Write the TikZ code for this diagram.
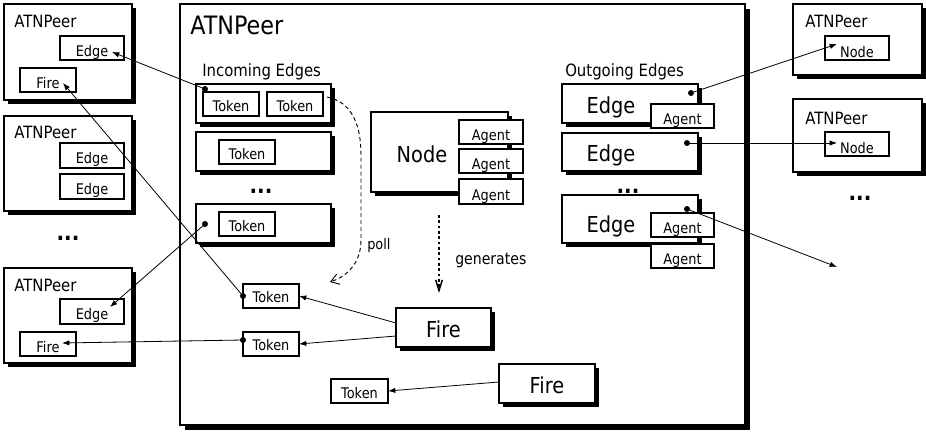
\documentclass[tikz,border=0pt]{standalone}
\usepackage{fontspec}
\setmainfont[FakeStretch=0.88]{DejaVu Sans}
\usetikzlibrary{arrows.meta,shadows,calc}
\newcommand{\bx}[6]{%
  \node[#6, minimum width={(#4-#2)*0.75pt}, minimum height={(#5-#3)*0.75pt}] (#1) at ({(#2+#4)/2},{(#3+#5)/2}) {};}
\begin{document}
\begin{tikzpicture}[x=0.75pt,y=-0.75pt,
  frame/.style={draw, fill=white, line width=0.9pt, inner sep=0pt, outer sep=0pt},
  shbox/.style={frame, general shadow={fill=black, shadow xshift=3pt, shadow yshift=-3pt}},
  lblS/.style={font=\fontsize{11}{13}\selectfont, inner sep=0pt, anchor=base},
  lblM/.style={font=\fontsize{12.7}{15}\selectfont, inner sep=0pt, anchor=base west},
  lblB/.style={font=\fontsize{16.5}{20}\selectfont, inner sep=0pt, anchor=base},
  lblT/.style={font=\fontsize{19}{23}\selectfont, inner sep=0pt, anchor=base west},
  ellip/.style={font=\fontsize{17}{20}\selectfont\bfseries, inner sep=0pt, anchor=base},
  blob/.style={circle, fill=black, inner sep=0pt, minimum size=4.5pt},
  arr/.style={line width=0.6pt, -{Latex[length=5.5pt,width=4pt]}}]
\useasboundingbox (0,0) rectangle (926,432);

% main peer
\bx{main}{180}{4}{745}{425}{frame, general shadow={fill=black, shadow xshift=4pt, shadow yshift=-4pt}}
\node[lblT] (mainT) at (190,35) {ATNPeer};
\node[lblM] (inT) at (202,76) {Incoming Edges};
\node[lblM] (outT) at (565,76) {Outgoing Edges};

% left peers
\bx{L1}{4}{4}{132}{100}{shbox}
\node[lblM] (L1T) at (14,27) {ATNPeer};
\bx{L1e}{60}{36}{124}{60}{frame}
\node[lblS] (L1eT) at (92,56) {Edge};
\bx{L1f}{20}{68}{76}{92}{frame}
\node[lblS] (L1fT) at (48,89) {Fire};

\bx{L2}{4}{116}{132}{211}{shbox}
\node[lblM] (L2T) at (14,138) {ATNPeer};
\bx{L2e}{60}{143}{124}{168}{frame}
\node[lblS] (L2eT) at (92,163) {Edge};
\bx{L2g}{60}{174}{124}{199}{frame}
\node[lblS] (L2gT) at (92,194) {Edge};

\node[ellip] (Ldots) at (68,240) {...};

\bx{L3}{4}{268}{132}{363}{shbox}
\node[lblM] (L3T) at (14,291) {ATNPeer};
\bx{L3e}{60}{299}{124}{324}{frame}
\node[lblS] (L3eT) at (92,319) {Edge};
\bx{L3f}{20}{332}{76}{356}{frame}
\node[lblS] (L3fT) at (48,352) {Fire};

% incoming edges
\bx{In1}{196}{84}{331}{123}{shbox}
\bx{T1a}{203}{92}{259}{116}{frame}
\node[lblS] (T1aT) at (231,111) {Token};
\bx{T1b}{267}{92}{323}{116}{frame}
\node[lblS] (T1bT) at (295,111) {Token};
\bx{In2}{196}{132}{331}{171}{shbox}
\bx{T2}{219}{140}{275}{164}{frame}
\node[lblS] (T2T) at (247,159) {Token};
\node[ellip] (Mdots) at (261,193) {...};
\bx{In3}{196}{204}{331}{243}{shbox}
\bx{T3}{219}{212}{275}{236}{frame}
\node[lblS] (T3T) at (247,231) {Token};

% tokens
\bx{TK1}{243}{284}{299}{308}{frame}
\node[lblS] (TK1T) at (271,302) {Token};
\bx{TK2}{243}{332}{299}{356}{frame}
\node[lblS] (TK2T) at (271,350) {Token};
\bx{TK3}{331}{379}{388}{403}{frame}
\node[lblS] (TK3T) at (359.5,398) {Token};

% node with agents
\bx{N}{371}{112}{508}{192}{shbox}
\node[lblB] (NT) at (422,162) {Node};
\bx{A1}{459}{120}{523}{144}{frame}
\node[lblS] (A1T) at (491,140) {Agent};
\bx{A2}{459}{149}{523}{173}{frame}
\node[lblS] (A2T) at (491,169) {Agent};
\bx{A3}{459}{179}{523}{204}{frame}
\node[lblS] (A3T) at (491,200) {Agent};

\node[lblS, anchor=base west] (pollT) at (367,249) {poll};
\node[lblS, anchor=base west, font=\fontsize{12}{14}\selectfont] (genT) at (455,264) {generates};

% outgoing edges
\bx{O1}{562}{84}{698}{123}{shbox}
\node[lblB] (O1T) at (611,113) {Edge};
\bx{OA1}{651}{104}{714}{128}{frame}
\node[lblS] (OA1T) at (682.5,124) {Agent};
\bx{O2}{562}{133}{698}{171}{shbox}
\node[lblB] (O2T) at (611,161) {Edge};
\node[ellip] (Odots) at (628,193) {...};
\bx{O3}{562}{195}{698}{243}{shbox}
\node[lblB] (O3T) at (611,232) {Edge};
\bx{OA3}{651}{213}{714}{237}{frame}
\node[lblS] (OA3T) at (682.5,233) {Agent};
\bx{OA4}{651}{244}{714}{268}{frame}
\node[lblS] (OA4T) at (682.5,264) {Agent};

% fires
\bx{F1}{396}{308}{491}{347}{shbox}
\node[lblB] (F1T) at (443.5,337) {Fire};
\bx{F2}{499}{364}{595}{403}{shbox}
\node[lblB] (F2T) at (547,393) {Fire};

% right peers
\bx{R1}{793}{4}{922}{75}{shbox}
\node[lblM] (R1T) at (805,27) {ATNPeer};
\bx{RN1}{825}{36}{889}{60}{frame}
\node[lblS] (RN1T) at (857,57) {Node};
\bx{R2}{793}{99}{922}{172}{shbox}
\node[lblM] (R2T) at (805,124) {ATNPeer};
\bx{RN2}{825}{132}{889}{156}{frame}
\node[lblS] (RN2T) at (857,153) {Node};
\node[ellip] (Rdots) at (860,200) {...};

% dots
\node[blob] (d1) at (205,89) {};
\node[blob] (d3) at (205,224) {};
\node[blob] (dk1) at (243,296) {};
\node[blob] (dk2) at (243,340) {};
\node[blob] (do1) at (691,93) {};
\node[blob] (do2) at (687,143) {};
\node[blob] (do3) at (687,209) {};

% arrow ends
\coordinate (t1) at (112,52);
\coordinate (t2) at (63,83);
\coordinate (t3) at (110,307);
\coordinate (t4) at (62,343);
\coordinate (t5) at (837,44);
\coordinate (t6) at (837,143);
\coordinate (t7) at (837,267);
\coordinate (f1a) at (396,323);
\coordinate (f1b) at (396,336);
\coordinate (f2a) at (499,382);
\coordinate (pS) at (327,97);
\coordinate (pE) at (330,282);
\coordinate (gS) at (439,215);
\coordinate (gE) at (439,293);

\draw[arr] (d1.center) -- (t1);
\draw[arr] (dk1.center) -- (t2);
\draw[arr] (d3.center) -- (t3);
\draw[arr] (dk2.center) -- (t4);
\draw[arr] (do1.center) -- (t5);
\draw[arr] (do2.center) -- (t6);
\draw[arr] (do3.center) -- (t7);
\draw[arr] (f1a) -- (TK1.east);
\draw[arr] (f1b) -- (TK2.east);
\draw[arr] (f2a) -- (TK3.east);

\draw[line width=0.7pt, dash pattern=on 3pt off 2.2pt, -{Straight Barb[length=6pt,width=8pt]}]
  (pS) .. controls (352,102) and (361,125) .. (361,155) -- (361,240) .. controls (361,262) and (348,276) .. (pE);
\draw[line width=1.1pt, dash pattern=on 2pt off 2pt, -{Straight Barb[length=8pt,width=5pt]}] (gS) -- (gE);
\end{tikzpicture}
\end{document}
